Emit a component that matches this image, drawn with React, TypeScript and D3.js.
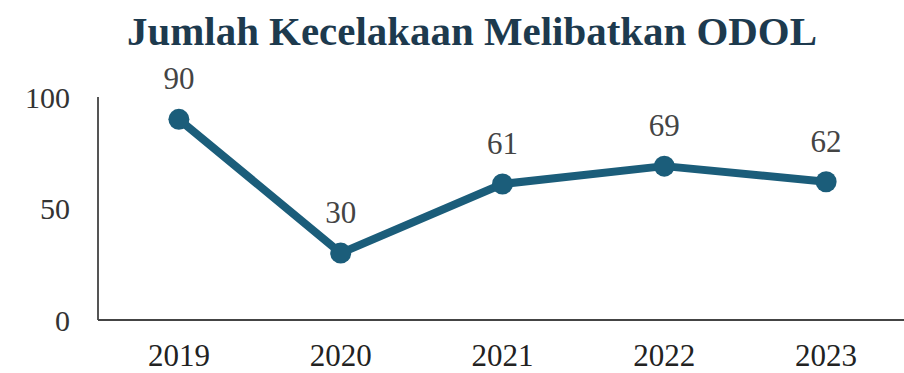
import React from "react";
import * as d3 from "d3";

const years = ["2019", "2020", "2021", "2022", "2023"];
const values = [90, 30, 61, 69, 62];
const yTicks = [0, 50, 100];
const title = "Jumlah Kecelakaan Melibatkan ODOL";

const W = 904;
const H = 373;
const left = 98;
const right = 907;
const top = 97;
const bottom = 320;
const font = "'Liberation Serif', 'Times New Roman', serif";
const lineColor = "#1b5d7a";

export default function App() {
  const x = d3.scaleBand<string>().domain(years).range([left, right]).padding(0);
  const y = d3.scaleLinear().domain([0, 100]).range([bottom, top]);
  const cx = (d: string) => (x(d) as number) + x.bandwidth() / 2;
  const line = d3
    .line<number>()
    .x((_, i) => cx(years[i]))
    .y((v) => y(v));

  return (
    <svg
      width={W}
      height={H}
      style={{ position: "absolute", left: 0, top: 0, background: "#fff" }}
    >
      <text
        x={472}
        y={45}
        textAnchor="middle"
        fontFamily={font}
        fontWeight="bold"
        fontSize={41}
        fill="#1d3a4e"
        textLength={690}
        lengthAdjust="spacingAndGlyphs"
      >
        {title}
      </text>
      <line x1={left} x2={left} y1={top} y2={bottom} stroke="#555" strokeWidth={2} />
      <line x1={left} x2={W} y1={bottom} y2={bottom} stroke="#444" strokeWidth={2} />
      {yTicks.map((t) => (
        <text
          key={t}
          x={70}
          y={y(t)}
          dy="0.35em"
          textAnchor="end"
          fontFamily={font}
          fontSize={30}
          fill="#333"
        >
          {t}
        </text>
      ))}
      {years.map((yr) => (
        <text
          key={yr}
          x={cx(yr)}
          y={366}
          textAnchor="middle"
          fontFamily={font}
          fontSize={31}
          fill="#222"
        >
          {yr}
        </text>
      ))}
      <path
        d={line(values) || ""}
        fill="none"
        stroke={lineColor}
        strokeWidth={8}
        strokeLinejoin="round"
      />
      {values.map((v, i) => (
        <g key={i}>
          <circle cx={cx(years[i])} cy={y(v)} r={10.5} fill={lineColor} />
          <text
            x={cx(years[i])}
            y={y(v) - 41}
            dy="0.35em"
            textAnchor="middle"
            fontFamily={font}
            fontSize={31}
            fill="#444"
          >
            {v}
          </text>
        </g>
      ))}
    </svg>
  );
}
